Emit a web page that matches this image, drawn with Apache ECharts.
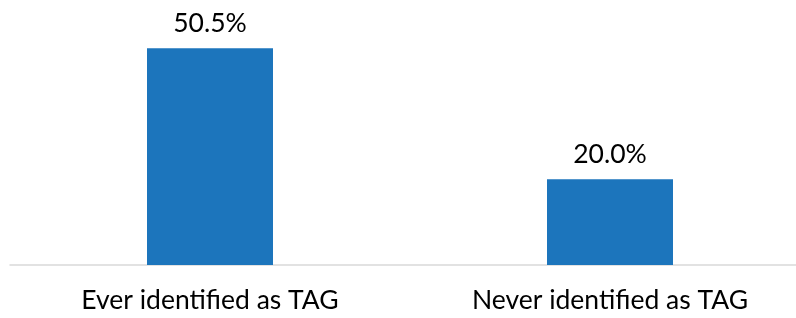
<!DOCTYPE html>
<html>
<head>
<meta charset="utf-8">
<script src="https://cdn.jsdelivr.net/npm/echarts@6/dist/echarts.min.js"></script>
<style>
    html, body { margin: 0; padding: 0; background: #fff; }
    #chart { width: 796px; height: 318px; }
</style>
</head>
<body>
<div id="chart"></div>
<script>
// Categories and values
var categories = ['Ever identified as TAG', 'Never identified as TAG'];
var shares = [50.5, 20.0];

var barColor = '#1c75bc';

var chart = echarts.init(document.getElementById('chart'));

var option = {
    animation: false,
    grid: {
        left: 10,
        top: 7.5,
        width: 800,
        bottom: 53,
        containLabel: false,
        outerBoundsMode: 'none'
    },
    xAxis: {
        type: 'category',
        data: categories,
        axisLine: { lineStyle: { color: '#d9d9d9', width: 1.5 } },
        axisTick: { show: false },
        axisLabel: {
            fontFamily: 'Lato',
            fontSize: 26.5,
            color: '#000',
            margin: 22
        }
    },
    yAxis: {
        type: 'value',
        min: 0,
        max: 60,
        show: false,
        splitLine: { show: false }
    },
    series: [
        {
            type: 'bar',
            data: shares,
            barWidth: '31.5%',
            itemStyle: { color: barColor },
            label: {
                show: true,
                position: 'top',
                distance: 11,
                fontFamily: 'Lato',
                fontSize: 26.5,
                color: '#000',
                formatter: function (p) {
                    return p.value.toFixed(1) + '%';
                }
            }
        }
    ]
};

chart.setOption(option);
</script>
</body>
</html>
